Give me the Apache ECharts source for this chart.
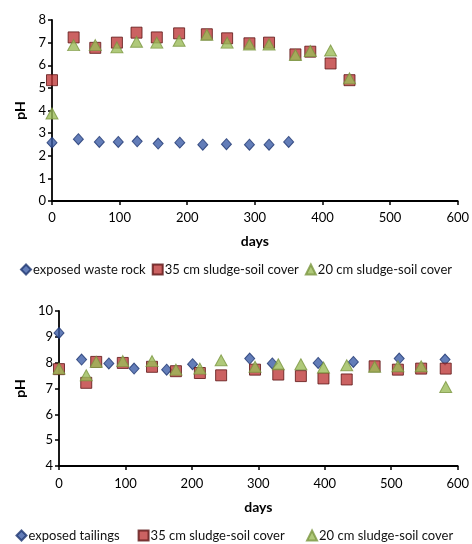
<!DOCTYPE html>
<html><head><meta charset="utf-8">
<script src="https://cdn.jsdelivr.net/npm/echarts@6/dist/echarts.min.js"></script>
<style>html,body{margin:0;padding:0;background:#fff}#c{width:472px;height:544px}</style>
</head><body><div id="c"></div>
<script>
// Top chart: waste rock
const rockDays = [0, 39, 70, 98, 126, 157, 189, 223, 258, 292, 321, 350];
const rockPH   = [2.58, 2.73, 2.61, 2.61, 2.64, 2.54, 2.58, 2.49, 2.51, 2.49, 2.49, 2.61];
const rock35Days = [0, 32, 64, 96, 125, 155, 188, 229, 259, 292, 321, 360, 382, 412, 440];
const rock35PH   = [5.34, 7.23, 6.77, 7.0, 7.44, 7.23, 7.41, 7.37, 7.19, 6.97, 7.0, 6.48, 6.6, 6.08, 5.34];
const rock20Days = [0, 32, 64, 96, 125, 155, 188, 229, 259, 292, 321, 360, 382, 412, 440];
const rock20PH   = [3.87, 6.89, 6.89, 6.79, 7.04, 7.0, 7.08, 7.35, 7.0, 6.92, 6.92, 6.45, 6.63, 6.65, 5.42];
// Bottom chart: tailings
const tailDays = [0, 34, 75, 113, 162, 201, 287, 321, 390, 443, 512, 581];
const tailPH   = [9.15, 8.12, 7.97, 7.77, 7.73, 7.94, 8.16, 7.97, 7.99, 8.03, 8.16, 8.12];
const tail35Days = [0, 41, 56, 96, 140, 176, 212, 244, 295, 330, 364, 398, 433, 475, 510, 545, 582];
const tail35PH   = [7.75, 7.22, 8.03, 7.99, 7.84, 7.67, 7.6, 7.51, 7.73, 7.54, 7.48, 7.39, 7.35, 7.86, 7.73, 7.77, 7.77];
const tail20Days = [0, 41, 56, 96, 140, 176, 212, 244, 295, 330, 364, 398, 433, 475, 510, 545, 582];
const tail20PH   = [7.77, 7.51, 8.03, 8.06, 8.06, 7.73, 7.77, 8.09, 7.84, 7.94, 7.94, 7.81, 7.9, 7.84, 7.86, 7.86, 7.06];

const topLegend = ['exposed waste rock', '35 cm sludge-soil cover', '20 cm sludge-soil cover'];
const botLegend = ['exposed tailings', '35 cm sludge-soil cover ', '20 cm sludge-soil cover '];

const FONT = 'Lato';
const zip = (a, b) => a.map((v, i) => [v, b[i]]);
const styles = {
  d: {symbol: 'diamond', symbolSize: [10, 11], itemStyle: {color: '#3C5DA6', borderColor: '#1E3670', borderWidth: 1}},
  s: {symbol: 'rect', symbolSize: 11, itemStyle: {color: '#BE3B3B', borderColor: '#5C1414', borderWidth: 1}},
  t: {symbol: 'triangle', symbolSize: [12, 11], itemStyle: {color: '#9BBB59', borderColor: '#7A9640', borderWidth: 1}}
};
function ser(name, kind, x, y, idx) {
  return Object.assign({type: 'scatter', name, data: zip(x, y), xAxisIndex: idx, yAxisIndex: idx, z: 2}, styles[kind]);
}
const axisCommon = {
  axisLine: {show: true, onZero: false, lineStyle: {color: '#000', width: 1.8}},
  axisTick: {show: true, length: 4, lineStyle: {color: '#000', width: 1.5}},
  splitLine: {show: false},
  axisLabel: {color: '#000', fontSize: 13, fontFamily: FONT}
};
const nameStyle = {color: '#000', fontSize: 14, fontWeight: 'bold', fontFamily: FONT};

const option = {
  animation: false,
  backgroundColor: '#fff',
  grid: [
    {left: 52, right: 13, top: 20, height: 181},
    {left: 59, right: 13, top: 311, height: 155}
  ],
  xAxis: [
    Object.assign({}, axisCommon, {gridIndex: 0, type: 'value', min: 0, max: 600, interval: 100,
      name: 'days', nameLocation: 'middle', nameGap: 33, nameTextStyle: nameStyle,
      axisLabel: Object.assign({}, axisCommon.axisLabel, {margin: 10})}),
    Object.assign({}, axisCommon, {gridIndex: 1, type: 'value', min: 0, max: 600, interval: 100,
      name: 'days', nameLocation: 'middle', nameGap: 34, nameTextStyle: nameStyle,
      axisLabel: Object.assign({}, axisCommon.axisLabel, {margin: 11})})
  ],
  yAxis: [
    Object.assign({}, axisCommon, {gridIndex: 0, type: 'value', min: 0, max: 8, interval: 1,
      name: 'pH', nameLocation: 'middle', nameGap: 25, nameTextStyle: nameStyle,
      axisLabel: Object.assign({}, axisCommon.axisLabel, {margin: 6})}),
    Object.assign({}, axisCommon, {gridIndex: 1, type: 'value', min: 4, max: 10, interval: 1,
      name: 'pH', nameLocation: 'middle', nameGap: 28, nameTextStyle: nameStyle,
      axisLabel: Object.assign({}, axisCommon.axisLabel, {margin: 6})})
  ],
  legend: [
    {top: 258, left: 'center', itemGap: 6, itemWidth: 10, itemHeight: 10,
     textStyle: {fontSize: 13, fontFamily: FONT, color: '#111', padding: [0, 0, 0, -3]},
     data: [{name: topLegend[0], icon: 'diamond'}, {name: topLegend[1], icon: 'rect'}, {name: topLegend[2], icon: 'triangle'}]},
    {top: 524, left: 'center', itemGap: 18, itemWidth: 10, itemHeight: 10,
     textStyle: {fontSize: 13, fontFamily: FONT, color: '#111', padding: [0, 0, 0, -3]},
     data: [{name: botLegend[0], icon: 'diamond'}, {name: botLegend[1], icon: 'rect'}, {name: botLegend[2], icon: 'triangle'}]}
  ],
  series: [
    ser(topLegend[0], 'd', rockDays, rockPH, 0),
    ser(topLegend[1], 's', rock35Days, rock35PH, 0),
    ser(topLegend[2], 't', rock20Days, rock20PH, 0),
    ser(botLegend[0], 'd', tailDays, tailPH, 1),
    ser(botLegend[1], 's', tail35Days, tail35PH, 1),
    ser(botLegend[2], 't', tail20Days, tail20PH, 1)
  ]
};
const chart = echarts.init(document.getElementById('c'), null, {renderer: 'canvas'});
chart.setOption(option);
</script></body></html>
